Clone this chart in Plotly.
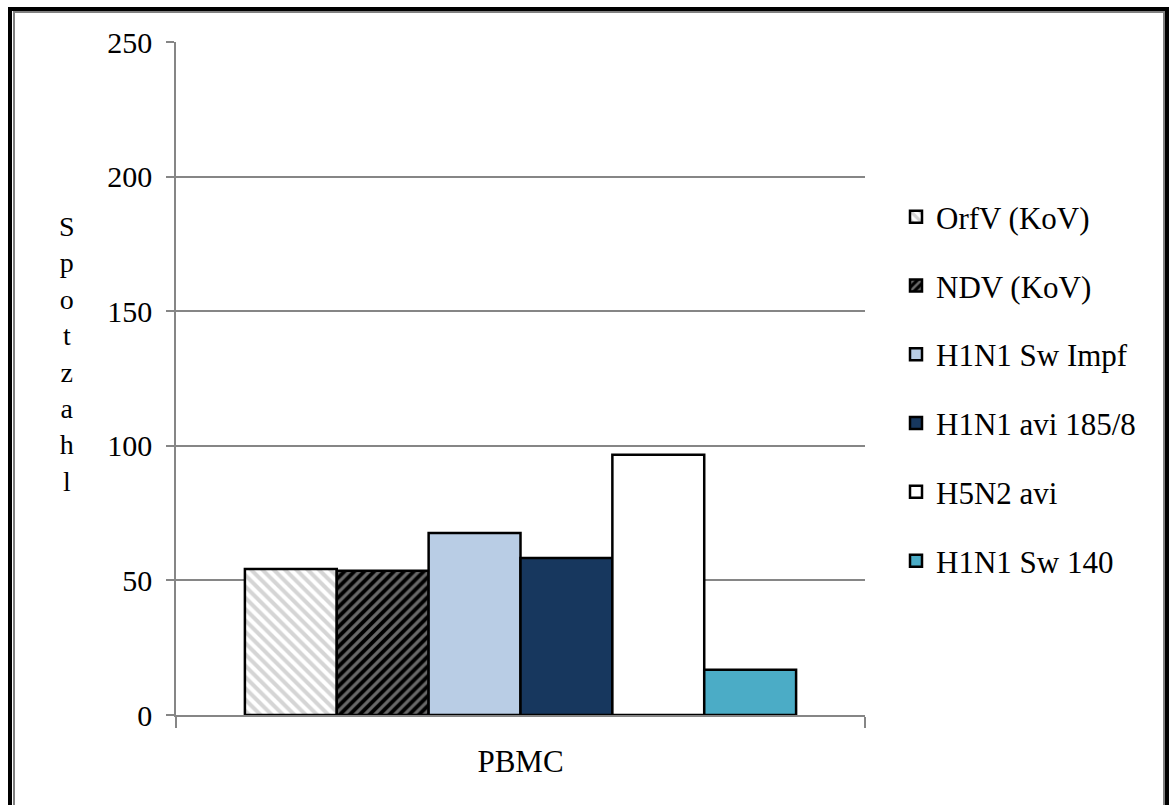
import plotly.graph_objects as go

# Chart data
categories = ["PBMC"]
series_names = ["OrfV (KoV)", "NDV (KoV)", "H1N1 Sw Impf", "H1N1 avi 185/8", "H5N2 avi", "H1N1 Sw 140"]
series_values = [54.2, 53.6, 67.6, 58.3, 96.7, 16.8]
y_ticks = [0, 50, 100, 150, 200, 250]
y_title = "Spotzahl"

# Styling per series: fill colour and optional hatch pattern
fills = ["#ffffff", "#000000", "#b9cde5", "#17375e", "#ffffff", "#4bacc6"]
patterns = [
    dict(shape="\\", fgcolor="#ababab", bgcolor="#ffffff", size=8, solidity=0.5),
    dict(shape="/", fgcolor="#d2d2d2", bgcolor="#000000", size=7, solidity=0.45),
    None, None, None, None,
]

W, H = 1169, 805
L, R, T, B = 176, 865, 42, 715  # plot area in pixels
FONT = "Liberation Serif"


def px_x(p):
    return (p - L) / (R - L)


def px_y(p):
    return (B - p) / (B - T)


fig = go.Figure()
for name, val, col, pat in zip(series_names, series_values, fills, patterns):
    marker = dict(color=col, line=dict(color="#000000", width=2.5))
    if pat is not None:
        marker["pattern"] = pat
    fig.add_trace(go.Bar(
        x=categories, y=[val], name=name, legendgroup=name, marker=marker,
    ))

# Outer double frame around the chart
fig.add_shape(type="rect", xref="paper", yref="paper",
              x0=px_x(10), x1=px_x(1167), y0=px_y(830), y1=px_y(9),
              line=dict(color="#000000", width=4), layer="below")
fig.add_shape(type="rect", xref="paper", yref="paper",
              x0=px_x(14), x1=px_x(1164), y0=px_y(830), y1=px_y(12),
              line=dict(color="#808080", width=2), layer="below")

# Vertical, letter-stacked axis title
fig.add_annotation(text="<br>".join(y_title), xref="paper", yref="paper",
                   x=px_x(67), y=px_y(354), showarrow=False,
                   font=dict(family=FONT, size=28, color="#000000"),
                   xanchor="center", yanchor="middle", align="center")

fig.update_layout(
    width=W, height=H,
    margin=dict(l=L, r=W - R, t=T, b=H - B, pad=0),
    paper_bgcolor="#ffffff", plot_bgcolor="#ffffff",
    barmode="group", bargap=0.2, bargroupgap=0,
    font=dict(family=FONT, size=30, color="#000000"),
    showlegend=True,
    legend=dict(
        font=dict(family=FONT, size=31, color="#000000"),
        xref="container", yref="container",
        x=896 / W, y=1 - 190 / H, xanchor="left", yanchor="top",
        tracegroupgap=25.5, itemwidth=30, bgcolor="rgba(0,0,0,0)",
        traceorder="grouped", maxheight=760,
    ),
    xaxis=dict(
        showline=True, linecolor="#868686", linewidth=1.5,
        ticks="outside", tickson="boundaries", ticklen=11,
        tickcolor="#868686", tickwidth=1.5,
        showgrid=False, ticklabelstandoff=18,
        tickfont=dict(family=FONT, size=31),
    ),
    yaxis=dict(
        range=[0, 250], tickvals=y_ticks,
        showline=True, linecolor="#868686", linewidth=1.5,
        ticks="outside", ticklen=8, tickcolor="#868686", tickwidth=1.5,
        showgrid=True, gridcolor="#868686", gridwidth=1.5,
        zeroline=False, ticklabelstandoff=8,
    ),
)

fig.write_html("out.html")
